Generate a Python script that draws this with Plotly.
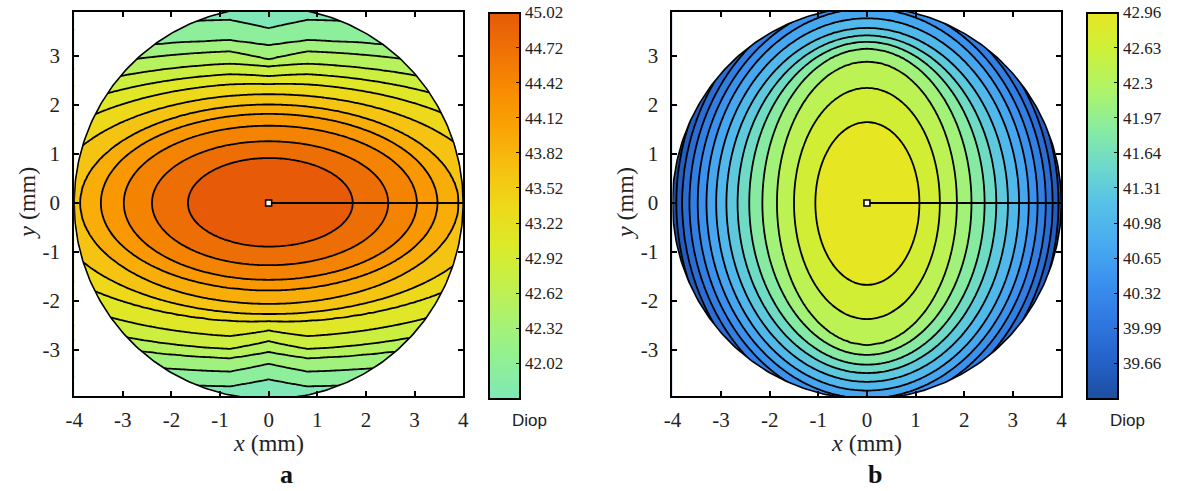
import numpy as np
import plotly.graph_objects as go

W, H = 1177, 491

# ---------------- data ----------------
# Panel a: values of the contour levels (centre outward) and where each level
# crosses the +x, -x, +y, -y half axes (mm). "_OFF" = crossing just off the y axis.
A_ZMIN, A_ZMAX = 41.72, 45.02
A_CENTER = 45.02
A_VALUES = [44.766, 44.512, 44.258, 44.005, 43.751, 43.497, 43.243,
            42.989, 42.735, 42.482, 42.228, 41.974, 41.72]
A_RX_POS = [1.73, 2.46, 3.05, 3.47, 3.90, 4.6, 5.4, 6.3, 7.3, 8.5, 10.0, 12.0, 14.0]
A_RX_NEG = [1.66, 2.40, 2.98, 3.45, 3.87, 4.5, 5.3, 6.2, 7.2, 8.4, 10.0, 12.0, 14.0]
A_RY_POS = [0.92, 1.26, 1.58, 1.82, 2.01, 2.22, 2.43, 2.59, 2.79, 2.93, 3.22, 3.57, 3.95]
A_RY_POS_OFF = [0.92, 1.26, 1.58, 1.82, 2.01, 2.22, 2.45, 2.65, 2.86, 3.11, 3.33, 3.75, 4.10]
A_RY_NEG = [0.89, 1.27, 1.57, 1.78, 2.06, 2.27, 2.41, 2.60, 2.82, 3.04, 3.28, 3.60, 3.95]
A_RY_NEG_OFF = [0.89, 1.27, 1.57, 1.78, 2.06, 2.27, 2.43, 2.74, 3.00, 3.18, 3.45, 3.75, 4.10]
A_TICKS = [42.02, 42.32, 42.62, 42.92, 43.22, 43.52, 43.82, 44.12, 44.42, 44.72, 45.02]

# Panel b
B_ZMIN, B_ZMAX = 39.33, 42.96
B_CENTER = 42.96
B_VALUES = [42.701, 42.441, 42.182, 41.923, 41.664, 41.404, 41.145,
            40.886, 40.626, 40.367, 40.108, 39.849, 39.589, 39.33]
B_RX_POS = [1.08, 1.50, 1.85, 2.15, 2.42, 2.66, 2.90, 3.13, 3.33, 3.51, 3.68, 3.82, 3.94, 4.05]
B_RX_NEG = [1.06, 1.50, 1.85, 2.15, 2.42, 2.66, 2.89, 3.10, 3.30, 3.48, 3.65, 3.80, 3.92, 4.03]
B_RY_POS = [1.65, 2.35, 2.89, 3.15, 3.29, 3.42, 3.57, 3.77, 3.97, 4.12, 4.25, 4.38, 4.50, 4.62]
B_RY_NEG = [1.67, 2.37, 2.90, 3.10, 3.30, 3.47, 3.65, 3.83, 3.99, 4.14, 4.27, 4.40, 4.52, 4.64]
B_TICKS = [39.66, 39.99, 40.32, 40.65, 40.98, 41.31, 41.64, 41.97, 42.3, 42.63, 42.96]

AXIS_TICKS = [-4, -3, -2, -1, 0, 1, 2, 3, 4]
AXIS_TICKTEXT = ["-4", "-3", "-2", "-1", "0", "1", "2", "3", "4"]
Y_TICKS = [-3, -2, -1, 0, 1, 2, 3]
Y_TICKTEXT = ["-3", "-2", "-1", "0", "1", "2", "3"]

A_COLORS = [[0.0, "#7fe8b6"], [0.1, "#90f095"], [0.2, "#a8f272"], [0.3, "#c4f04a"],
            [0.4, "#dcea28"], [0.5, "#eed81a"], [0.6, "#f6c010"], [0.7, "#f9a405"],
            [0.8, "#f88c00"], [0.9, "#f07205"], [1.0, "#e65a08"]]
B_COLORS = [[0.0, "#1d4ea0"], [0.1, "#2462c8"], [0.2, "#2f78e0"], [0.3, "#3a90ee"],
            [0.4, "#48aaf0"], [0.5, "#55c0e8"], [0.6, "#6cd8cc"], [0.7, "#88eca0"],
            [0.8, "#aef468"], [0.9, "#ccf03a"], [1.0, "#e6e622"]]

# ---------------- field reconstruction from level crossings ----------------
GRID = np.linspace(-4, 4, 161)


def build_field(center, values, rxp, rxn, ryp, ryn, ryp_off=None, ryn_off=None, wdip=0.8):
    X, Y = np.meshgrid(GRID, GRID)
    rxp, rxn, ryp, ryn = map(np.asarray, (rxp, rxn, ryp, ryn))
    ryp_off = ryp if ryp_off is None else np.asarray(ryp_off)
    ryn_off = ryn if ryn_off is None else np.asarray(ryn_off)
    Xe, Ye = X[..., None], Y[..., None]
    w = np.clip(1 - np.abs(Xe) / wdip, 0, 1)
    rx = np.where(Xe >= 0, rxp, rxn)
    ry = np.where(Ye >= 0, w * ryp + (1 - w) * ryp_off, w * ryn + (1 - w) * ryn_off)
    s = np.sqrt((Xe / rx) ** 2 + (Ye / ry) ** 2)
    r = np.hypot(X, Y)
    R = r[..., None] / np.maximum(s, 1e-12)
    vals = np.concatenate([[center], values])
    Z = np.empty_like(r)
    for i in range(r.shape[0]):
        for j in range(r.shape[1]):
            if r[i, j] < 1e-9:
                Z[i, j] = center
            else:
                xp = np.concatenate([[0.0], R[i, j] ** 2])
                Z[i, j] = np.interp(r[i, j] ** 2, xp, vals)
    return Z


ZA = build_field(A_CENTER, A_VALUES, A_RX_POS, A_RX_NEG, A_RY_POS, A_RY_NEG,
                 A_RY_POS_OFF, A_RY_NEG_OFF)
ZB = build_field(B_CENTER, B_VALUES, B_RX_POS, B_RX_NEG, B_RY_POS, B_RY_NEG)

# ---------------- figure ----------------
SERIF = "Liberation Serif, Times New Roman, serif"
SANS = "Liberation Sans, Arial, sans-serif"

fig = go.Figure()

panels = [
    dict(xa="x", ya="y", Z=ZA, zmin=A_ZMIN, zmax=A_ZMAX, n=13, cs=A_COLORS, ticks=A_TICKS,
         cbx=486, strip="#80e8b0"),
    dict(xa="x2", ya="y2", Z=ZB, zmin=B_ZMIN, zmax=B_ZMAX, n=14, cs=B_COLORS, ticks=B_TICKS,
         cbx=1092, strip="#2a5cc0"),
]

th = np.linspace(0, 2 * np.pi, 361)
circ_x = 4 * np.cos(th)
circ_y = 4 * np.sin(th)
mask_x = list(circ_x) + [4.7, 4.7, -4.7, -4.7, 4.7, 4.7, 4.0]
mask_y = list(circ_y) + [0.0, -4.7, -4.7, 4.7, 4.7, 0.0, 0.0]

shapes = []
for p in panels:
    step = (p["zmax"] - p["zmin"]) / p["n"]
    fig.add_trace(go.Contour(
        x=GRID, y=GRID, z=p["Z"], xaxis=p["xa"], yaxis=p["ya"],
        colorscale=p["cs"], zmin=p["zmin"], zmax=p["zmax"], showscale=False,
        contours=dict(start=p["zmin"] + step, end=p["zmax"] - step * 0.999, size=step,
                      coloring="fill", showlines=True),
        line=dict(color="black", width=1.8), hoverinfo="skip"))
    # white mask outside the circular zone
    fig.add_trace(go.Scatter(x=mask_x, y=mask_y, xaxis=p["xa"], yaxis=p["ya"], mode="lines",
                             fill="toself", fillcolor="white", line=dict(width=0),
                             hoverinfo="skip", showlegend=False))
    fig.add_trace(go.Scatter(x=circ_x, y=circ_y, xaxis=p["xa"], yaxis=p["ya"], mode="lines",
                             line=dict(color="black", width=1.6), hoverinfo="skip",
                             showlegend=False))
    # meridian line and centre marker
    fig.add_trace(go.Scatter(x=[0, 4], y=[0, 0], xaxis=p["xa"], yaxis=p["ya"], mode="lines",
                             line=dict(color="black", width=1.8), hoverinfo="skip",
                             showlegend=False))
    fig.add_trace(go.Scatter(x=[0], y=[0], xaxis=p["xa"], yaxis=p["ya"], mode="markers",
                             marker=dict(symbol="square", size=6, color="white",
                                         line=dict(color="black", width=1.6)),
                             hoverinfo="skip", showlegend=False))
    # continuous colour bar
    fig.add_trace(go.Scatter(
        x=[100], y=[100], xaxis=p["xa"], yaxis=p["ya"], mode="markers",
        marker=dict(size=1, color=[p["zmin"]], colorscale=p["cs"], cmin=p["zmin"],
                    cmax=p["zmax"], showscale=True,
                    colorbar=dict(thickness=31, thicknessmode="pixels", len=386,
                                  lenmode="pixels", x=p["cbx"] / W, xanchor="left",
                                  y=1 - 205.5 / H, yanchor="middle", xpad=0, ypad=0,
                                  outlinewidth=2, outlinecolor="black",
                                  ticks="inside", ticklen=5, tickwidth=1.2, tickcolor="black",
                                  tickvals=p["ticks"], ticktext=[f"{t:g}" for t in p["ticks"]],
                                  tickfont=dict(family=SERIF, size=17, color="#222"))),
        hoverinfo="skip", showlegend=False))
    # thin strip along the right edge of the colour bar (as in the reference)
    shapes.append(dict(type="rect", xref="paper", yref="paper",
                       x0=(p["cbx"] + 28.5) / W, x1=(p["cbx"] + 30.5) / W,
                       y0=1 - 398 / H, y1=1 - 13 / H, fillcolor=p["strip"],
                       line=dict(width=0), layer="above"))

axis_common = dict(showgrid=False, zeroline=False, showline=True, linecolor="black",
                   linewidth=2, mirror="ticks", ticks="inside", ticklen=5, tickwidth=1.5,
                   tickcolor="black", tickfont=dict(family=SERIF, size=21, color="#222"))

fig.update_layout(
    width=W, height=H, margin=dict(l=0, r=0, t=0, b=0),
    paper_bgcolor="white", plot_bgcolor="white", showlegend=False, shapes=shapes,
    xaxis=dict(domain=[66 / W, 460 / W], range=[-4, 4], anchor="y", ticklabelstandoff=4,
               tickvals=AXIS_TICKS, ticktext=AXIS_TICKTEXT, **axis_common),
    yaxis=dict(domain=[1 - 396 / H, 1 - 12 / H], range=[-3.94, 3.90], anchor="x",
               ticklabelstandoff=8,
               tickvals=Y_TICKS, ticktext=Y_TICKTEXT, **axis_common),
    xaxis2=dict(domain=[672 / W, 1066 / W], range=[-4, 4], anchor="y2", ticklabelstandoff=4,
                tickvals=AXIS_TICKS, ticktext=AXIS_TICKTEXT, **axis_common),
    yaxis2=dict(domain=[1 - 396 / H, 1 - 12 / H], range=[-3.94, 3.90], anchor="x2",
                ticklabelstandoff=8,
                tickvals=Y_TICKS, ticktext=Y_TICKTEXT, **axis_common),
)

ann = []
for cx, cbx, lab in [(263, 527, "a"), (869, 1133, "b")]:
    ann.append(dict(x=cx / W, y=1 - 443 / H, xref="paper", yref="paper", showarrow=False,
                    text="<i>x</i> (mm)", font=dict(family=SERIF, size=24, color="#222"),
                    xanchor="center", yanchor="middle"))
    ann.append(dict(x=cbx / W, y=1 - 420 / H, xref="paper", yref="paper", showarrow=False,
                    text="Diop", font=dict(family=SANS, size=17, color="#222"),
                    xanchor="center", yanchor="middle"))
    ann.append(dict(x=(cx + 18 if lab == "a" else cx + 8) / W, y=1 - 474 / H, xref="paper",
                    yref="paper", showarrow=False, text=f"<b>{lab}</b>",
                    font=dict(family=SERIF, size=26, color="#111"),
                    xanchor="center", yanchor="middle"))
for yx in (18, 624):
    ann.append(dict(x=yx / W, y=1 - 203 / H, xref="paper", yref="paper", showarrow=False,
                    text="<i>y</i> (mm)", textangle=-90,
                    font=dict(family=SERIF, size=24, color="#222"),
                    xanchor="center", yanchor="middle"))
fig.update_layout(annotations=ann)

fig.write_html("out.html")
